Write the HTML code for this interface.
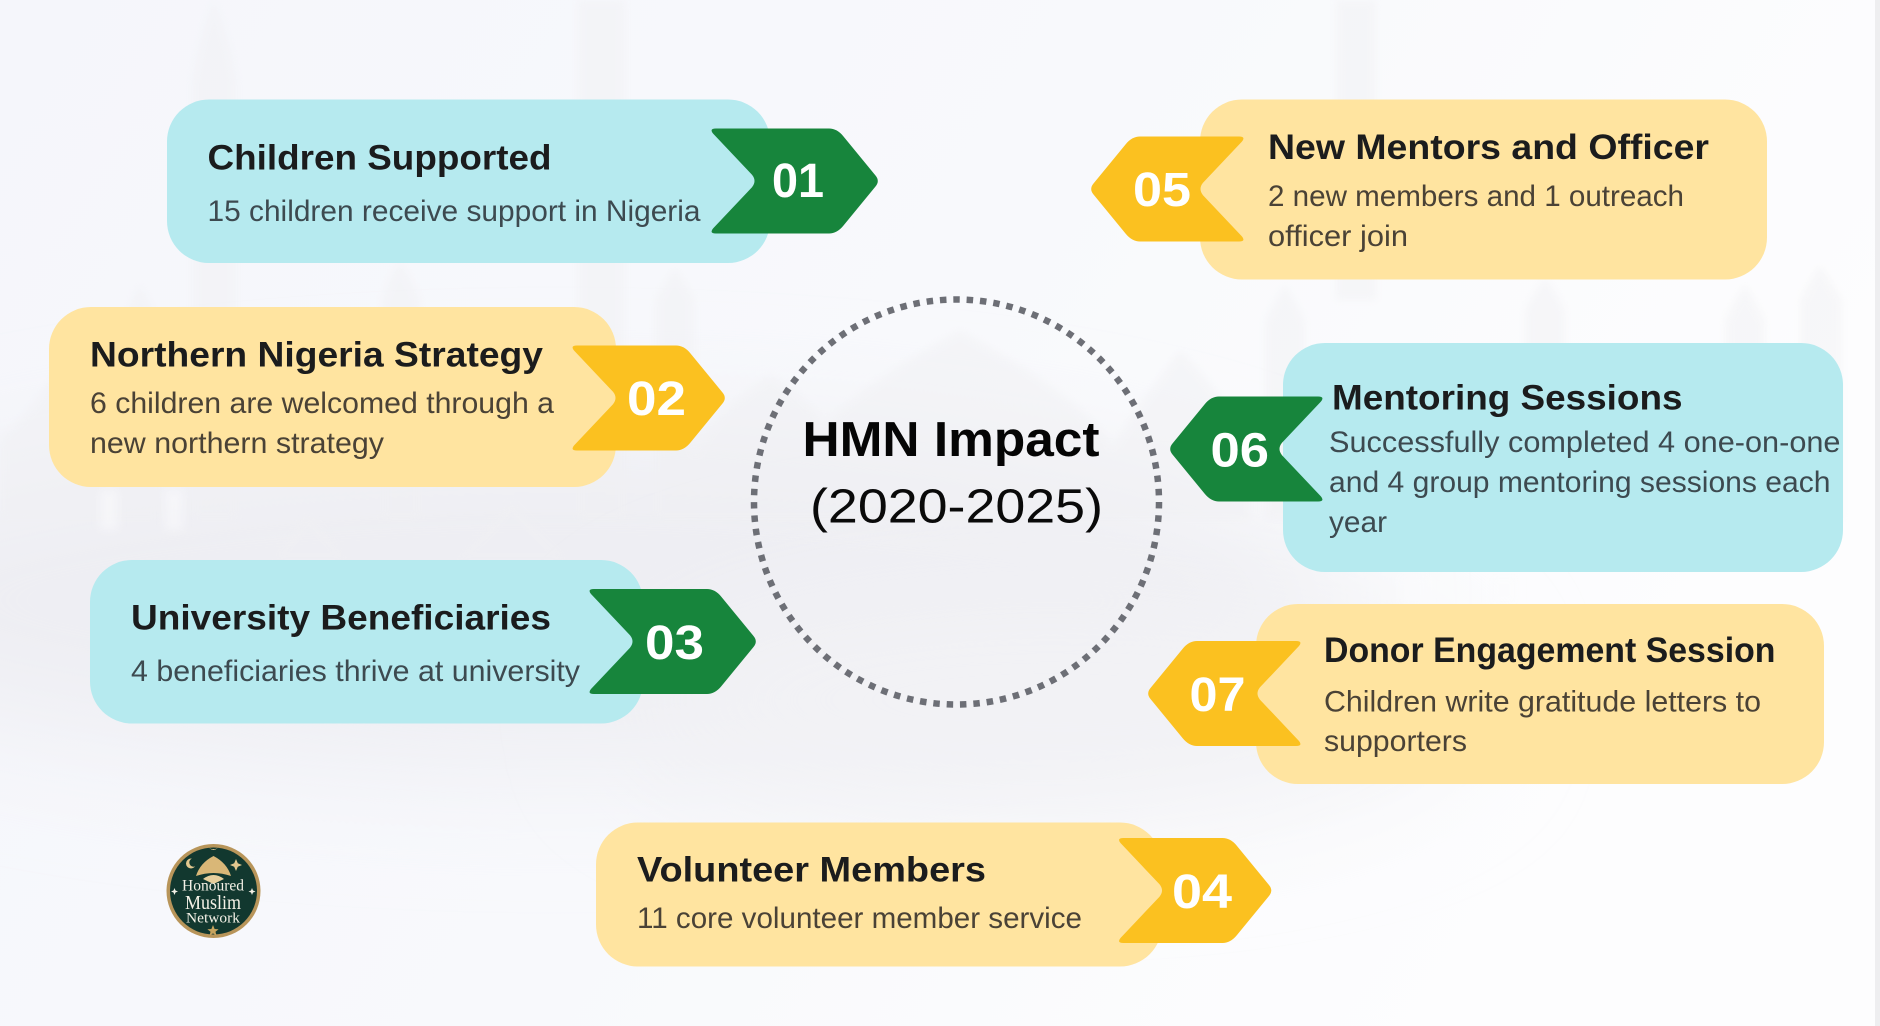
<!DOCTYPE html>
<html lang="en">
<head>
<meta charset="utf-8">
<title>HMN Impact (2020-2025)</title>
<style>
html,body{margin:0;padding:0;background:#f8f8fb;width:1880px;height:1026px;overflow:hidden}
svg{display:block}
text{font-family:"Liberation Sans",sans-serif}
.t{font-size:35.5px;font-weight:700;fill:#1b1c1d}
.bb{font-size:30px;fill:#3d4a50}
.by{font-size:30px;fill:#4a4236}
.n{font-size:48px;font-weight:700;fill:#fff}
.s{font-family:"Liberation Serif",serif;fill:#f4f1e6}
</style>
</head>
<body>
<svg xmlns="http://www.w3.org/2000/svg" width="1880" height="1026" viewBox="0 0 1880 1026">
<defs>
<linearGradient id="g" x1="0" y1="0" x2="1" y2="0.35">
<stop offset="0" stop-color="#f5f6fb"/><stop offset="0.55" stop-color="#f8f9fc"/><stop offset="1" stop-color="#fdfdfe"/>
</linearGradient>
<filter id="b1" x="-30%" y="-60%" width="160%" height="220%"><feGaussianBlur stdDeviation="60"/></filter>
<filter id="b2" x="-10%" y="-10%" width="120%" height="120%"><feGaussianBlur stdDeviation="4"/></filter>
</defs>

<!-- background -->
<rect width="1880" height="1026" fill="url(#g)"/>
<ellipse cx="560" cy="600" rx="780" ry="170" fill="#eeeef3" filter="url(#b1)"/>
<ellipse cx="1050" cy="700" rx="420" ry="120" fill="#f2f2f5" filter="url(#b1)"/>
<rect x="1875" y="0" width="5" height="1026" fill="#eeeef0"/>

<!-- faint mosque silhouettes -->
<g fill="#f0f0f3" filter="url(#b2)" opacity="0.45">
<path d="M192 520V80Q200 30 214 0Q228 30 237 80V520Z"/>
<path d="M578 520V0H625V520Z"/>
<path d="M1336 300V0H1376V300Z"/>
<path d="M125 520V320Q130 300 140 285Q150 300 158 320V520Z"/>
<path d="M382 520V300Q390 275 400 262Q410 275 420 300V520Z"/>
<path d="M655 520V300Q665 280 675 268Q685 280 695 300V520Z"/>
<path d="M1265 520V320Q1275 300 1285 285Q1295 300 1305 320V520Z"/>
<path d="M1525 520V310Q1535 290 1545 278Q1555 290 1565 310V520Z"/>
<path d="M1725 520V320Q1735 300 1745 285Q1755 300 1765 320V520Z"/>
<path d="M1800 520V300Q1810 280 1820 265Q1830 280 1842 300V520Z"/>
<path d="M0 440Q40 400 70 350Q110 410 160 440V520H0Z"/>
<path d="M690 520V470Q700 420 770 375Q820 400 850 470V520Z"/>
<path d="M810 520V440Q850 390 960 330Q1070 390 1110 440V520Z"/>
<path d="M1110 520V450Q1140 400 1180 350Q1230 400 1250 450V520Z"/>
<path d="M450 560Q490 530 510 500Q540 530 570 560Z"/>
<path d="M270 560Q290 535 308 515Q330 535 350 560Z"/>
</g>
<g fill="#fbfbfd" opacity="0.5" filter="url(#b2)">
<rect x="1400" y="575" width="28" height="30"/><rect x="1490" y="575" width="28" height="30"/>
<rect x="100" y="490" width="18" height="40"/><rect x="165" y="490" width="18" height="40"/>
</g>

<!-- cards -->
<rect x="167" y="99.5" width="603" height="163.5" rx="42" fill="#b6eaef"/>
<rect x="49" y="307" width="567" height="180" rx="42" fill="#ffe4a0"/>
<rect x="90" y="560" width="553" height="163.5" rx="42" fill="#b6eaef"/>
<rect x="596" y="822.5" width="566" height="144" rx="42" fill="#ffe4a0"/>
<rect x="1200" y="99.5" width="567" height="180" rx="42" fill="#ffe4a0"/>
<rect x="1283" y="343" width="560" height="229" rx="42" fill="#b6eaef"/>
<rect x="1256" y="604" width="568" height="180" rx="42" fill="#ffe4a0"/>

<!-- chevrons -->
<path transform="translate(710 128.5)" fill="#17853c" d="M6 0H119Q127 0 133.300 7.700L165.600 47.100Q170 52.500 165.600 57.900L133.300 97.300Q127 105 119 105H6Q-1 105 3 100L42 58.700Q47 52.500 42 46.300L3 5Q-1 0 6 0Z"/>
<path transform="translate(588 589)" fill="#17853c" d="M6 0H119Q127 0 133.300 7.700L165.600 47.100Q170 52.500 165.600 57.900L133.300 97.300Q127 105 119 105H6Q-1 105 3 100L42 58.700Q47 52.500 42 46.300L3 5Q-1 0 6 0Z"/>
<path transform="translate(571 345.500)" fill="#fbc120" d="M6 0H105Q113 0 119.300 7.700L151.600 47.100Q156 52.500 151.600 57.900L119.300 97.300Q113 105 105 105H6Q-1 105 3 100L42 58.700Q47 52.500 42 46.300L3 5Q-1 0 6 0Z"/>
<path transform="translate(1117.500 838)" fill="#fbc120" d="M6 0H105Q113 0 119.300 7.700L151.600 47.100Q156 52.500 151.600 57.900L119.300 97.300Q113 105 105 105H6Q-1 105 3 100L42 58.700Q47 52.500 42 46.300L3 5Q-1 0 6 0Z"/>
<path transform="translate(1245 136.500) scale(-1 1)" fill="#fbc120" d="M6 0H105Q113 0 119.300 7.700L151.600 47.100Q156 52.500 151.600 57.900L119.300 97.300Q113 105 105 105H6Q-1 105 3 100L42 58.700Q47 52.500 42 46.300L3 5Q-1 0 6 0Z"/>
<path transform="translate(1324 396.500) scale(-1 1)" fill="#17853c" d="M6 0H105Q113 0 119.300 7.700L151.600 47.100Q156 52.500 151.600 57.900L119.300 97.300Q113 105 105 105H6Q-1 105 3 100L42 58.700Q47 52.500 42 46.300L3 5Q-1 0 6 0Z"/>
<path transform="translate(1302 641) scale(-1 1)" fill="#fbc120" d="M6 0H105Q113 0 119.300 7.700L151.600 47.100Q156 52.500 151.600 57.900L119.300 97.300Q113 105 105 105H6Q-1 105 3 100L42 58.700Q47 52.500 42 46.300L3 5Q-1 0 6 0Z"/>

<!-- chevron numbers -->
<text class="n" x="772" y="197" textLength="52" lengthAdjust="spacingAndGlyphs">01</text>
<text class="n" x="627" y="415" textLength="59" lengthAdjust="spacingAndGlyphs">02</text>
<text class="n" x="645" y="659" textLength="59" lengthAdjust="spacingAndGlyphs">03</text>
<text class="n" x="1172" y="908" textLength="60" lengthAdjust="spacingAndGlyphs">04</text>
<text class="n" x="1133" y="206" textLength="58" lengthAdjust="spacingAndGlyphs">05</text>
<text class="n" x="1210.500" y="466.500" textLength="58.500" lengthAdjust="spacingAndGlyphs">06</text>
<text class="n" x="1189.500" y="711" textLength="56" lengthAdjust="spacingAndGlyphs">07</text>

<!-- card text -->
<text class="t" x="207.500" y="169.500" textLength="344" lengthAdjust="spacingAndGlyphs">Children Supported</text>
<text class="bb" x="207.500" y="221" textLength="493" lengthAdjust="spacingAndGlyphs">15 children receive support in Nigeria</text>

<text class="t" x="90" y="366.500" textLength="453" lengthAdjust="spacingAndGlyphs">Northern Nigeria Strategy</text>
<text class="by" x="90" y="413" textLength="464" lengthAdjust="spacingAndGlyphs">6 children are welcomed through a</text>
<text class="by" x="90" y="453" textLength="294" lengthAdjust="spacingAndGlyphs">new northern strategy</text>

<text class="t" x="131" y="629.500" textLength="420" lengthAdjust="spacingAndGlyphs">University Beneficiaries</text>
<text class="bb" x="131" y="681" textLength="449" lengthAdjust="spacingAndGlyphs">4 beneficiaries thrive at university</text>

<text class="t" x="637" y="881.500" textLength="349" lengthAdjust="spacingAndGlyphs">Volunteer Members</text>
<text class="by" x="637" y="928" textLength="445" lengthAdjust="spacingAndGlyphs">11 core volunteer member service</text>

<text class="t" x="1268" y="159" textLength="441" lengthAdjust="spacingAndGlyphs">New Mentors and Officer</text>
<text class="by" x="1268" y="206" textLength="416" lengthAdjust="spacingAndGlyphs">2 new members and 1 outreach</text>
<text class="by" x="1268" y="246" textLength="140" lengthAdjust="spacingAndGlyphs">officer join</text>

<text class="t" x="1332" y="409.500" textLength="350.500" lengthAdjust="spacingAndGlyphs">Mentoring Sessions</text>
<text class="bb" x="1329" y="452" textLength="511.500" lengthAdjust="spacingAndGlyphs">Successfully completed 4 one-on-one</text>
<text class="bb" x="1329" y="492" textLength="501.500" lengthAdjust="spacingAndGlyphs">and 4 group mentoring sessions each</text>
<text class="bb" x="1329" y="532" textLength="58" lengthAdjust="spacingAndGlyphs">year</text>

<text class="t" x="1324" y="662" textLength="451.500" lengthAdjust="spacingAndGlyphs">Donor Engagement Session</text>
<text class="by" x="1324" y="711.500" textLength="437" lengthAdjust="spacingAndGlyphs">Children write gratitude letters to</text>
<text class="by" x="1324" y="751" textLength="143" lengthAdjust="spacingAndGlyphs">supporters</text>

<!-- centre -->
<circle cx="956.500" cy="502" r="202.500" fill="none" stroke="#6d6f76" stroke-width="6.500" stroke-dasharray="6.500 6.890"/>
<text x="802.500" y="456" font-size="49.500" font-weight="700" fill="#050505" textLength="297" lengthAdjust="spacingAndGlyphs">HMN Impact</text>
<text x="810" y="522.500" font-size="48" fill="#0a0a0a" textLength="293" lengthAdjust="spacingAndGlyphs">(2020-2025)</text>

<!-- logo -->
<circle cx="213.500" cy="891" r="47" fill="#b8955a"/>
<circle cx="213.500" cy="891" r="43.500" fill="#12382f"/>
<path d="M196 876Q200 863 213.500 856Q227 863 231 876Q213.500 870 196 876Z" fill="#d9b777"/>
<path d="M203 879Q213.500 871 224 879L213.500 884Z" fill="#e7cf9c"/>
<path d="M213.500 849a4 4 0 0 0 5-4a5 5 0 0 1-10 0a4 4 0 0 0 5 4Z" fill="#e3c88f"/>
<circle cx="191" cy="863.500" r="5" fill="#e3c88f"/>
<circle cx="193.500" cy="862.500" r="4.200" fill="#12382f"/>
<path d="M236 859l1.800 4.200 4.200 1.800-4.200 1.800-1.800 4.200-1.800-4.200-4.200-1.800 4.200-1.800Z" fill="#e3c88f"/>
<path d="M174.500 888l1 2.500 2.500 1-2.500 1-1 2.500-1-2.500-2.500-1 2.500-1Z" fill="#f4f1e6"/>
<path d="M252 888l1 2.500 2.500 1-2.500 1-1 2.500-1-2.500-2.500-1 2.500-1Z" fill="#f4f1e6"/>
<path d="M213 925l1.600 4 4 .2-3.100 2.500 1 3.900-3.500-2.200-3.500 2.200 1-3.900-3.100-2.500 4-.2Z" fill="#c6a35e"/>
<text class="s" x="182" y="890.500" font-size="15.500" textLength="62" lengthAdjust="spacingAndGlyphs">Honoured</text>
<text class="s" x="185" y="909" font-size="20" textLength="56" lengthAdjust="spacingAndGlyphs">Muslim</text>
<text class="s" x="186" y="922.500" font-size="15" textLength="54" lengthAdjust="spacingAndGlyphs">Network</text>
</svg>
</body>
</html>
